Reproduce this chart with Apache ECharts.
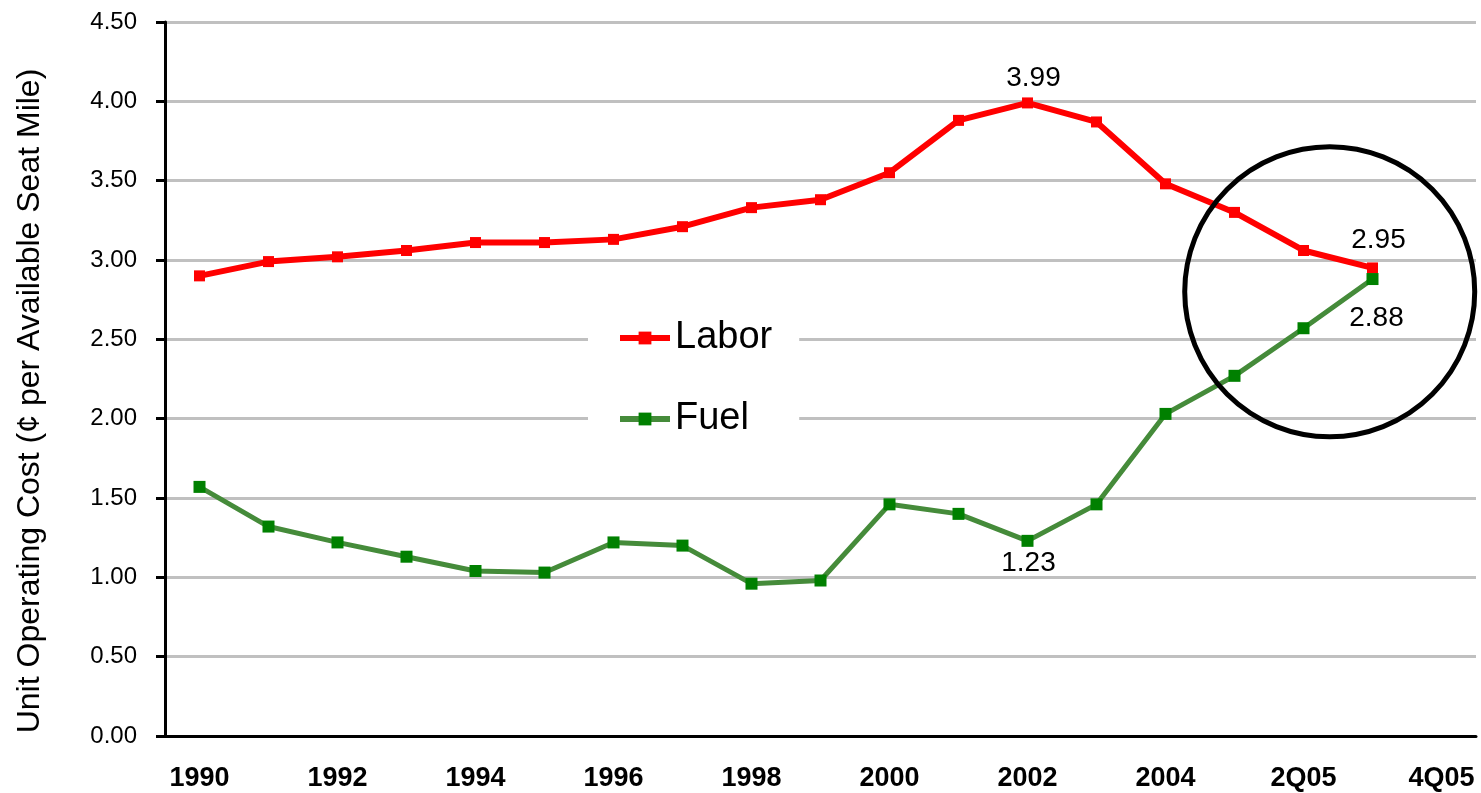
<!DOCTYPE html>
<html>
<head>
<meta charset="utf-8">
<script src="https://cdn.jsdelivr.net/npm/echarts@6/dist/echarts.min.js"></script>
<style>
  html, body { margin: 0; padding: 0; background: #fff; }
  #chart { width: 1481px; height: 793px; }
</style>
</head>
<body>
<div id="chart"></div>
<script>
const categories = ['1990', '1991', '1992', '1993', '1994', '1995', '1996', '1997', '1998', '1999',
  '2000', '2001', '2002', '2003', '2004', '1Q05', '2Q05', '3Q05', '4Q05']
const labor = [2.90, 2.99, 3.02, 3.06, 3.11, 3.11, 3.13, 3.21, 3.33, 3.38,
  3.55, 3.88, 3.99, 3.87, 3.48, 3.30, 3.06, 2.95, null]
const fuel = [1.57, 1.32, 1.22, 1.13, 1.04, 1.03, 1.22, 1.20, 0.96, 0.98,
  1.46, 1.40, 1.23, 1.46, 2.03, 2.27, 2.57, 2.88, null]
const yTicks = [0, 0.5, 1, 1.5, 2, 2.5, 3, 3.5, 4, 4.5]

// points that carry a value label
const laborLabels = { 12: { position: 'top', distance: 5, offset: [6, 0] }, 17: { position: 'top', distance: 8, offset: [6, 0] } }
const fuelLabels = { 12: { position: 'bottom', distance: 2, offset: [1, 0] }, 17: { position: 'bottom', distance: 19, offset: [4, 0] } }

function withLabels(values, labels) {
  return values.map((v, i) => {
    if (!labels[i]) return v
    return {
      value: v,
      label: Object.assign({
        show: true,
        formatter: v.toFixed(2),
        fontSize: 28,
        lineHeight: 28,
        color: '#000',
        fontFamily: 'Liberation Sans, Arial, sans-serif'
      }, labels[i])
    }
  })
}

const chart = echarts.init(document.getElementById('chart'))
const font = 'Liberation Sans, Arial, sans-serif'

const option = {
  animation: false,
  backgroundColor: '#fff',
  grid: { left: 165, right: 5, top: 22, bottom: 57 },
  legend: {
    orient: 'vertical',
    left: 588,
    top: 278,
    padding: [40, 27, 40, 29],
    backgroundColor: '#fff',
    itemWidth: 50,
    itemHeight: 16,
    itemGap: 41,
    lineStyle: { width: 6 },
    textStyle: { fontSize: 38, lineHeight: 40, color: '#000', fontFamily: font },
    data: ['Labor', 'Fuel']
  },
  xAxis: {
    type: 'category',
    data: categories,
    boundaryGap: true,
    axisLine: { lineStyle: { color: '#000', width: 3 } },
    axisTick: { interval: 0, length: 8, lineStyle: { color: '#000', width: 3 } },
    axisLabel: { interval: 1, fontSize: 27, margin: 29, color: '#000', fontFamily: font, fontWeight: 'bold' },
    splitLine: { show: false }
  },
  yAxis: {
    type: 'value',
    min: yTicks[0],
    max: yTicks[yTicks.length - 1],
    interval: 0.5,
    name: 'Unit Operating Cost (¢ per Available Seat Mile)',
    nameLocation: 'middle',
    nameGap: 119,
    nameTextStyle: { fontSize: 32, color: '#000', fontFamily: font, padding: [0, 44, 0, 0] },
    axisLine: { show: true, lineStyle: { color: '#000', width: 3 } },
    axisTick: { show: true, length: 9, lineStyle: { color: '#000', width: 3 } },
    axisLabel: { fontSize: 24, margin: 28, color: '#000', fontFamily: font, formatter: v => v.toFixed(2) },
    splitLine: { lineStyle: { color: '#c0c0c0', width: 3 } }
  },
  series: [
    {
      name: 'Labor',
      type: 'line',
      data: withLabels(labor, laborLabels),
      symbol: 'rect',
      symbolSize: 11,
      itemStyle: { color: '#ff0000' },
      lineStyle: { color: '#ff0000', width: 6 },
      z: 3
    },
    {
      name: 'Fuel',
      type: 'line',
      data: withLabels(fuel, fuelLabels),
      symbol: 'rect',
      symbolSize: 12,
      itemStyle: { color: '#008000' },
      lineStyle: { color: '#458b3a', width: 5 },
      z: 4
    }
  ]
}
chart.setOption(option)

// ring round the crossing at the end of the series
const p1 = chart.convertToPixel({ xAxisIndex: 0, yAxisIndex: 0 }, ['2Q05', 2.8])
const p2 = chart.convertToPixel({ xAxisIndex: 0, yAxisIndex: 0 }, ['3Q05', 2.8])
chart.setOption({
  graphic: [{
    type: 'circle',
    shape: { cx: p1[0] + (p2[0] - p1[0]) * 0.38, cy: p1[1], r: 145 },
    style: { fill: 'none', stroke: '#000', lineWidth: 5 },
    z: 100
  }]
})
</script>
</body>
</html>
